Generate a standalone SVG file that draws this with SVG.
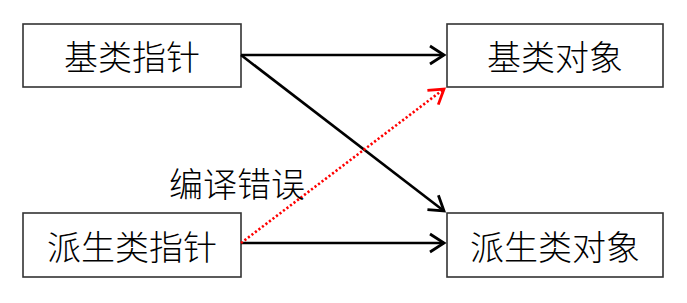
<svg xmlns="http://www.w3.org/2000/svg" width="687" height="303" viewBox="0 0 687 303">
<style>
.box{fill:#fff;stroke:#333;stroke-width:1.6}
.lbl{font-family:"Noto Sans CJK SC","Noto Sans",sans-serif;font-size:34px;font-weight:300;fill:#000;text-anchor:middle;dominant-baseline:central}
.ln{fill:none;stroke:#000;stroke-width:2.6}
.err{fill:none;stroke:#f00;stroke-width:2.6;stroke-dasharray:2.2 2.2}
</style>
<defs>
<marker id="ah" markerUnits="userSpaceOnUse" markerWidth="30" markerHeight="30" refX="15" refY="10" orient="auto" viewBox="0 0 30 20">
<path d="M1,1 L15,10 L1,19" fill="none" stroke="#000" stroke-width="2.8"/>
</marker>
<marker id="ahr" markerUnits="userSpaceOnUse" markerWidth="30" markerHeight="30" refX="15" refY="10" orient="auto" viewBox="0 0 30 20">
<path d="M1,1 L15,10 L1,19" fill="none" stroke="#f00" stroke-width="2.8"/>
</marker>
</defs>
<g id="n1"><rect class="box" x="23" y="24" width="218" height="63"/><text class="lbl" x="132" y="55">基类指针</text></g>
<g id="n2"><rect class="box" x="447" y="24" width="216" height="63"/><text class="lbl" x="555" y="55">基类对象</text></g>
<g id="n3"><rect class="box" x="23" y="213" width="218" height="64"/><text class="lbl" x="132" y="245">派生类指针</text></g>
<g id="n4"><rect class="box" x="447" y="213" width="216" height="64"/><text class="lbl" x="555" y="245">派生类对象</text></g>
<g id="connectors">
<line class="ln" x1="241" y1="55" x2="444" y2="55" marker-end="url(#ah)"/>
<line class="ln" x1="241" y1="55" x2="444" y2="211" marker-end="url(#ah)"/>
<line class="ln" x1="241" y1="243" x2="444" y2="243" marker-end="url(#ah)"/>
<line class="err" x1="241" y1="243" x2="444" y2="89" marker-end="url(#ahr)"/>
<text class="lbl" x="237" y="182">编译错误</text>
</g>
</svg>
